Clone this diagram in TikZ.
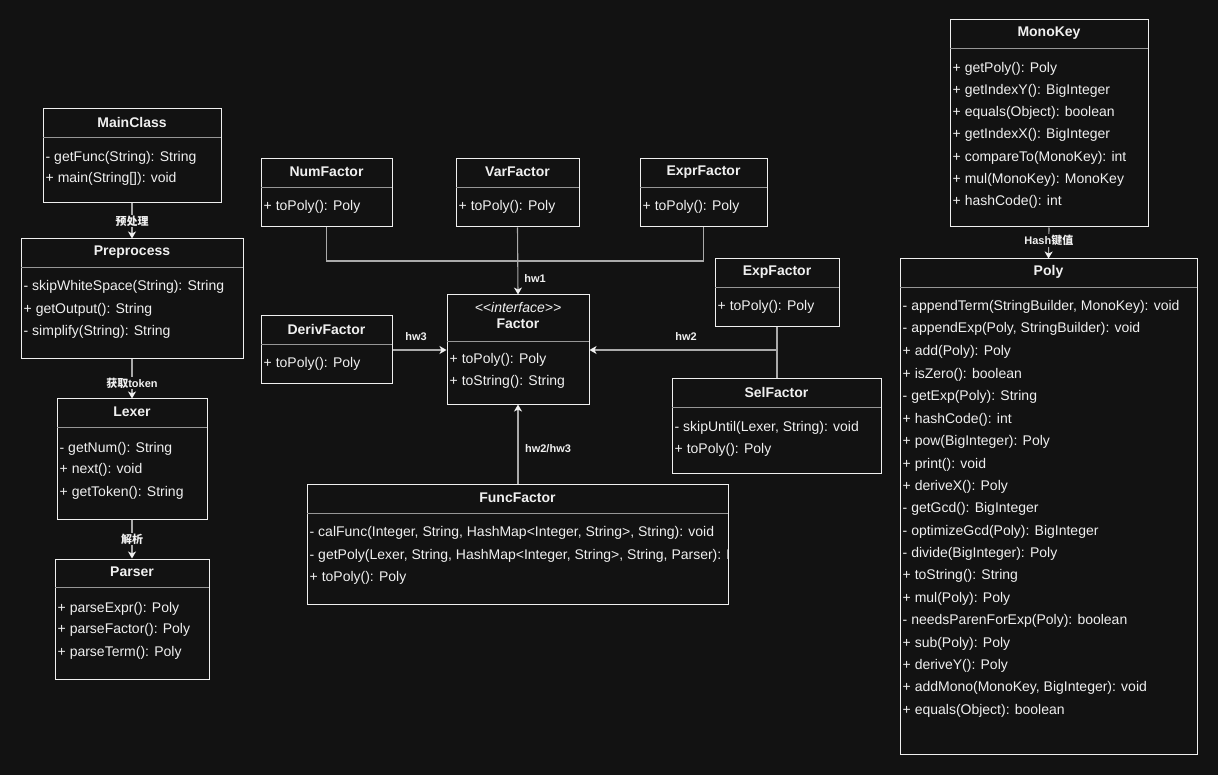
\documentclass[tikz,border=0pt]{standalone}
\usepackage{fontspec}
\setmainfont{Liberation Sans}
\newfontfamily\cjk{Noto Sans CJK SC}
\usetikzlibrary{arrows.meta,fit,positioning}
\definecolor{bg}{RGB}{18,18,18}
\definecolor{fg}{RGB}{240,240,240}
\definecolor{sepc}{RGB}{150,150,150}
\definecolor{linec}{RGB}{170,170,170}
\tikzset{
  boxstyle/.style={draw=fg, fill=bg, line width=1pt, inner sep=0pt},
  sepline/.style={draw=sepc, line width=0.9pt},
  titlestyle/.style={text=fg, font=\fontsize{14}{16}\selectfont\bfseries, inner sep=0pt, yshift=1pt},
  memstyle/.style={text=fg, font=\fontsize{14}{16}\selectfont, inner sep=0pt, text height=10pt, text depth=3pt, anchor=west, yshift=-1.5pt},
  conn/.style={draw=linec, line width=1.1pt},
  arr/.style={conn, -{Stealth[length=7pt,width=8pt,inset=2pt,color=fg]}},
  elabel/.style={text=fg, font=\fontsize{11}{13}\selectfont\bfseries, inner sep=1pt},
  elabelbg/.style={elabel, fill=bg},
}
\newcommand{\classbox}[7]{%
  \node[boxstyle, fit={(#2,#3) (#4,#5)}] (#1) {};
  \draw[sepline] (#2,#6) -- (#4,#6);
  \node[titlestyle] (#1-t) at ({(#2+#4)/2},{(#3+#6)/2}) {#7};
}
\newcommand{\mem}[4]{\node[memstyle] (#1) at (#2,#3) {#4};}
\begin{document}
\begin{tikzpicture}[x=1pt,y=-1pt]
\useasboundingbox (0,0) rectangle (1218,775);
\fill[bg] (0,0) rectangle (1218,775);

% ---------- left column
\classbox{mainclass}{43}{109}{221}{203}{137}{MainClass}
\mem{mc1}{45.5}{157}{- getFunc(String): String}
\mem{mc2}{45.5}{178}{+ main(String[]): void}

\classbox{preprocess}{21}{239}{243}{359}{267}{Preprocess}
\mem{pp1}{23.5}{286}{- skipWhiteSpace(String): String}
\mem{pp2}{23.5}{309}{+ getOutput(): String}
\mem{pp3}{23.5}{331}{- simplify(String): String}

\classbox{lexer}{57}{399}{207}{519}{427}{Lexer}
\mem{lx1}{59.5}{447}{- getNum(): String}
\mem{lx2}{59.5}{468}{+ next(): void}
\mem{lx3}{59.5}{491}{+ getToken(): String}

\classbox{parser}{55}{559}{209}{679}{587}{Parser}
\mem{ps1}{57.5}{607}{+ parseExpr(): Poly}
\mem{ps2}{57.5}{628}{+ parseFactor(): Poly}
\mem{ps3}{57.5}{651}{+ parseTerm(): Poly}

% ---------- factors
\classbox{numfactor}{261}{159}{392}{227}{187}{NumFactor}
\mem{nf1}{263.5}{206}{+ toPoly(): Poly}

\classbox{varfactor}{456}{159}{579}{227}{187}{VarFactor}
\mem{vf1}{458.5}{206}{+ toPoly(): Poly}

\classbox{exprfactor}{640}{159}{767}{227}{187}{ExprFactor}
\mem{ef1}{642.5}{206}{+ toPoly(): Poly}

\node[boxstyle, fit={(447,295) (589,404)}] (factor) {};
\draw[sepline] (447,341) -- (589,341);
\node[text=fg, font=\fontsize{14}{16}\selectfont\itshape, inner sep=0pt] (factor-s) at (518,307) {<\kern0pt<interface>\kern0pt>};
\node[titlestyle] (factor-t) at (518,324.5) {Factor};
\mem{fa1}{449.5}{359}{+ toPoly(): Poly}
\mem{fa2}{449.5}{381}{+ toString(): String}

\classbox{derivfactor}{261}{316}{392}{384}{344}{DerivFactor}
\mem{df1}{263.5}{363}{+ toPoly(): Poly}

\classbox{expfactor}{715}{259}{839}{327}{287}{ExpFactor}
\mem{xf1}{717.5}{306}{+ toPoly(): Poly}

\classbox{selfactor}{672}{379}{881}{473}{407}{SelFactor}
\mem{sf1}{674.5}{426}{- skipUntil(Lexer, String): void}
\mem{sf2}{674.5}{448}{+ toPoly(): Poly}

\classbox{funcfactor}{307}{484}{728}{604}{513}{FuncFactor}
\begin{scope}
\clip (307.5,484) rectangle (727.5,604);
\mem{fu1}{309.5}{531}{- calFunc(Integer, String, HashMap<Integer, String>, String): void}
\mem{fu2}{309.5}{554}{- getPoly(Lexer, String, HashMap<Integer, String>, String, Parser): Poly}
\mem{fu3}{309.5}{576}{+ toPoly(): Poly}
\end{scope}

% ---------- right column
\classbox{monokey}{950}{20}{1148}{227}{48}{MonoKey}
\mem{mk1}{952.5}{68}{+ getPoly(): Poly}
\mem{mk2}{952.5}{89.5}{+ getIndexY(): BigInteger}
\mem{mk3}{952.5}{112}{+ equals(Object): boolean}
\mem{mk4}{952.5}{134}{+ getIndexX(): BigInteger}
\mem{mk5}{952.5}{156.5}{+ compareTo(MonoKey): int}
\mem{mk6}{952.5}{179}{+ mul(MonoKey): MonoKey}
\mem{mk7}{952.5}{201}{+ hashCode(): int}

\classbox{poly}{900}{259}{1197}{754}{287}{Poly}
\mem{po1}{902.5}{306}{- appendTerm(StringBuilder, MonoKey): void}
\mem{po2}{902.5}{328}{- appendExp(Poly, StringBuilder): void}
\mem{po3}{902.5}{351}{+ add(Poly): Poly}
\mem{po4}{902.5}{373}{+ isZero(): boolean}
\mem{po5}{902.5}{396}{- getExp(Poly): String}
\mem{po6}{902.5}{418}{+ hashCode(): int}
\mem{po7}{902.5}{440}{+ pow(BigInteger): Poly}
\mem{po8}{902.5}{463}{+ print(): void}
\mem{po9}{902.5}{485}{+ deriveX(): Poly}
\mem{po10}{902.5}{507}{- getGcd(): BigInteger}
\mem{po11}{902.5}{530}{- optimizeGcd(Poly): BigInteger}
\mem{po12}{902.5}{552}{- divide(BigInteger): Poly}
\mem{po13}{902.5}{574}{+ toString(): String}
\mem{po14}{902.5}{597}{+ mul(Poly): Poly}
\mem{po15}{902.5}{619}{- needsParenForExp(Poly): boolean}
\mem{po16}{902.5}{642}{+ sub(Poly): Poly}
\mem{po17}{902.5}{664}{+ deriveY(): Poly}
\mem{po18}{902.5}{686}{+ addMono(MonoKey, BigInteger): void}
\mem{po19}{902.5}{709}{+ equals(Object): boolean}

% ---------- connectors
\draw[arr] (mainclass.south) -- node[elabelbg, pos=0.5] (l1) {\cjk\bfseries 预处理} (preprocess.north);
\draw[arr] (preprocess.south) -- node[elabelbg, pos=0.6] (l2) {{\cjk\bfseries 获取}token} (lexer.north);
\draw[arr] (lexer.south) -- node[elabelbg, pos=0.5] (l3) {\cjk\bfseries 解析} (parser.north);
\draw[arr] (monokey.south) -- node[elabelbg, pos=0.42] (l4) {Hash{\cjk\bfseries 键值}} (poly.north);

\coordinate (j1) at (517.5,261);
\draw[conn] (numfactor.south) |- (j1);
\draw[conn] (exprfactor.south) |- (j1);
\draw[arr] (varfactor.south) -- (factor.north);
\node[elabel] (lhw1) at (535,279) {hw1};

\draw[arr] (derivfactor.east) -- (derivfactor.east -| factor.west);
\node[elabel] (lhw3) at (416,337) {hw3};

\coordinate (j2) at (777,350);
\draw[conn] (expfactor.south) -- (selfactor.north -| expfactor.south);
\draw[arr] (j2) -- (j2 -| factor.east);
\node[elabel] (lhw2) at (686,337) {hw2};

\draw[arr] (funcfactor.north -| factor.south) -- (factor.south);
\node[elabel] (lhw23) at (548,449) {hw2/hw3};
\end{tikzpicture}
\end{document}
